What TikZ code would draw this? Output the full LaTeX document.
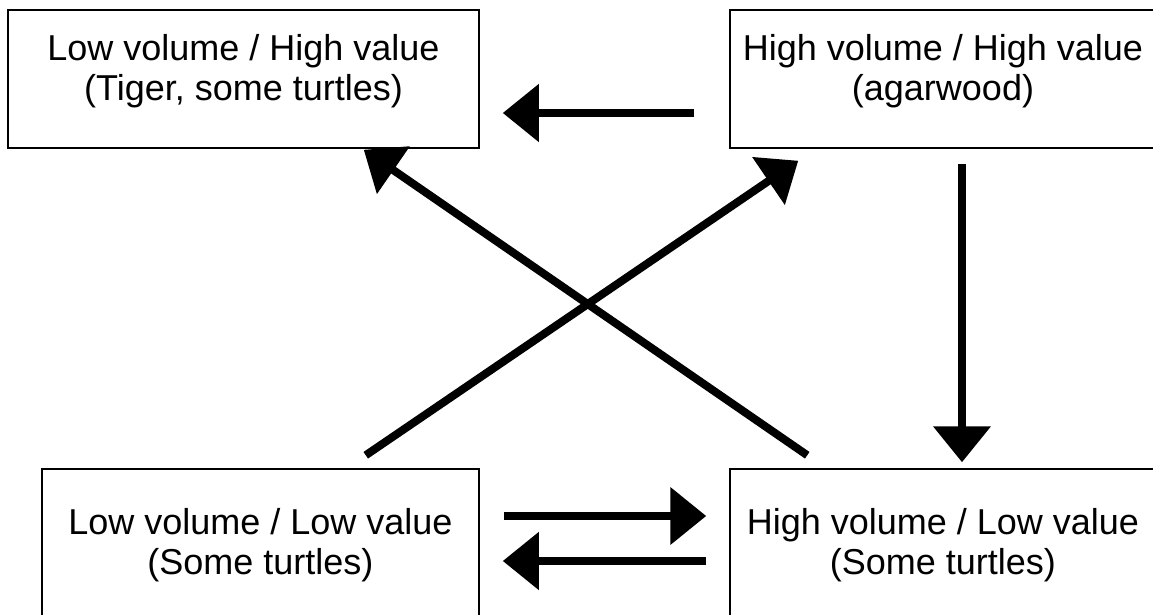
\documentclass[tikz,border=0pt]{standalone}
\usepackage{fontspec}
\setmainfont{Liberation Sans}
\usetikzlibrary{arrows.meta,calc}

\begin{document}
\begin{tikzpicture}[x=0.5pt,y=-0.5pt,
  box/.style = {draw, line width=0.75pt, rectangle, align=center, inner sep=0pt,
                font=\fontsize{18}{20}\selectfont},
  upper/.style = {box, minimum height=69pt, text depth=12pt},
  lower/.style = {box, minimum height=76.5pt},
  arr/.style = {line width=4pt, -{Triangle[length=18pt,width=28pt]}}]
\useasboundingbox (0,0) rectangle (1153,615);
\clip (0,0) rectangle (1153,615);
\node[upper, minimum width=235.5pt] (lh) at (243.5,79) {Low volume / High value\\(Tiger, some turtles)};
\node[upper, minimum width=213pt] (hh) at (943,79) {High volume / High value\\(agarwood)};
\node[lower, minimum width=218.5pt] (ll) at (260.5,545.5) {Low volume / Low value\\(Some turtles)};
\node[lower, minimum width=213pt] (hl) at (943,545.5) {High volume / Low value\\(Some turtles)};
\draw[arr] ($(hh.west)+(-35,34)$) -- ($(lh.east)+(23,34)$);
\draw[arr] ($(hh.south)+(19,15)$) -- ($(hl.north)+(19,-6)$);
\draw[arr] ($(hl.north west)+(78,-13)$) -- ($(lh.south east)+(-116,1)$);
\draw[arr] ($(ll.north east)+(-114,-13)$) -- ($(hh.south west)+(69,12)$);
\draw[arr] ($(ll.east)+(24,-29.5)$) -- ($(hl.west)+(-23,-29.5)$);
\draw[arr] ($(hl.west)+(-23,15.5)$) -- ($(ll.east)+(23,15.5)$);
\end{tikzpicture}
\end{document}
